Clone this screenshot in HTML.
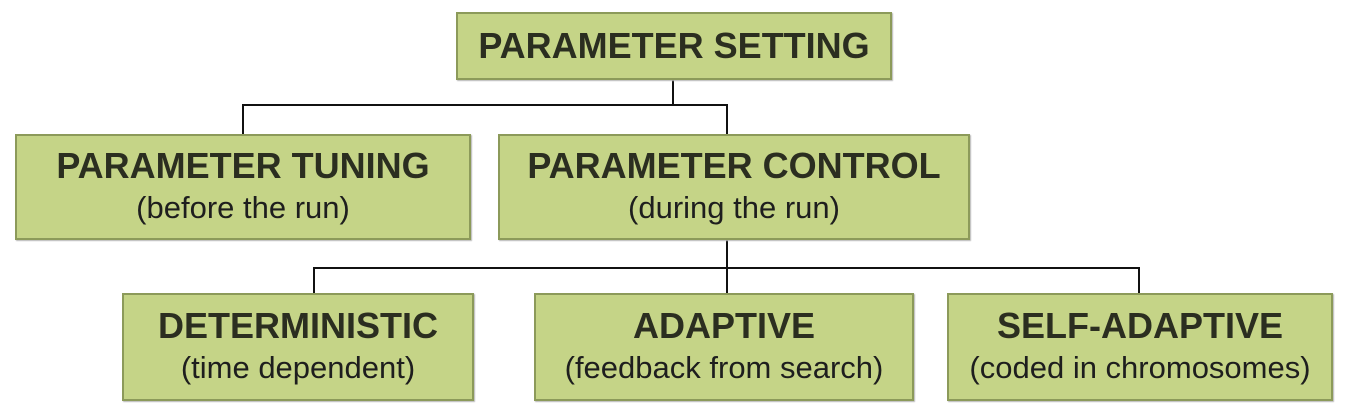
<!DOCTYPE html>
<html><head><style>
body{margin:0;width:1345px;height:415px;background:#fff;position:relative;overflow:hidden;font-family:"Liberation Sans",sans-serif}
.b{position:absolute;box-sizing:border-box;background:#c5d487;border:2px solid #8c9a5a;box-shadow:1px 1px 1px #b8b8b8;display:flex;flex-direction:column;align-items:center;justify-content:center;color:#2b2e20;text-align:center;white-space:nowrap}
.t{font-weight:bold;font-size:36px;line-height:42px}
.s{font-size:31px;line-height:42px;color:#1e1e1e}
.l{position:absolute;background:#111}
</style></head><body>
<div class="l" style="left:672px;top:80px;width:2px;height:26px"></div>
<div class="l" style="left:242px;top:104px;width:486px;height:2px"></div>
<div class="l" style="left:242px;top:104px;width:2px;height:30px"></div>
<div class="l" style="left:726px;top:104px;width:2px;height:30px"></div>
<div class="l" style="left:726px;top:240px;width:2px;height:28px"></div>
<div class="l" style="left:313px;top:267px;width:827px;height:2px"></div>
<div class="l" style="left:313px;top:267px;width:2px;height:26px"></div>
<div class="l" style="left:726px;top:267px;width:2px;height:26px"></div>
<div class="l" style="left:1138px;top:267px;width:2px;height:26px"></div>

<div class="b" style="left:456px;top:12px;width:436px;height:68px"><div class="t">PARAMETER SETTING</div></div>
<div class="b" style="left:15px;top:134px;width:456px;height:106px"><div class="t">PARAMETER TUNING</div><div class="s">(before the run)</div></div>
<div class="b" style="left:498px;top:134px;width:472px;height:106px"><div class="t">PARAMETER CONTROL</div><div class="s">(during the run)</div></div>
<div class="b" style="left:122px;top:293px;width:352px;height:108px"><div class="t">DETERMINISTIC</div><div class="s">(time dependent)</div></div>
<div class="b" style="left:534px;top:293px;width:380px;height:108px"><div class="t">ADAPTIVE</div><div class="s">(feedback from search)</div></div>
<div class="b" style="left:947px;top:293px;width:386px;height:108px"><div class="t">SELF-ADAPTIVE</div><div class="s">(coded in chromosomes)</div></div>
</body></html>
